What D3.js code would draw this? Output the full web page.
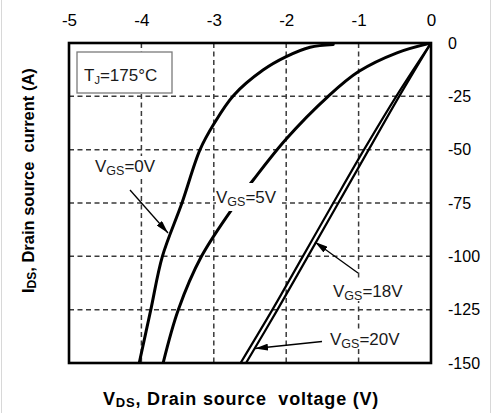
<!DOCTYPE html>
<html>
<head>
<meta charset="utf-8">
<script src="https://cdn.jsdelivr.net/npm/d3@7"></script>
<style>
  html, body { margin: 0; padding: 0; background: #fff; }
  svg { display: block; }
  text { font-family: Arial, "Liberation Sans", sans-serif; }
</style>
</head>
<body>
<svg id="chart" width="495" height="413"></svg>
<script>
// ---- data (V_DS in volts, I_DS in amps) ----
const xTicks = [-5, -4, -3, -2, -1, 0];
const yTicks = [0, -25, -50, -75, -100, -125, -150];

const vgs0V = [-1.35, -1.67, -2.0, -2.32, -2.73, -3.0, -3.19, -3.44, -3.71, -3.87, -4.03];
const vgs0I = [-0.7, -2.0, -6.4, -12.7, -24.7, -38, -50, -75, -100, -125, -150];

const vgs5V = [0, -0.47, -1.0, -1.42, -2.0, -2.45, -2.69, -3.17, -3.49, -3.70];
const vgs5I = [0, -4.6, -13.4, -25, -45, -64, -75, -100, -125, -150];

const vgs18V = [0, -0.48, -0.925, -1.35, -1.77, -2.19, -2.63];
const vgs18I = [0, -25, -50, -75, -100, -125, -150];

const vgs20V = [0, -0.44, -0.86, -1.28, -1.70, -2.12, -2.555];
const vgs20I = [0, -25, -50, -75, -100, -125, -150];

const zip = (vs, is) => vs.map((v, i) => ({ v: v, i: is[i] }));

// ---- layout ----
const svg = d3.select("#chart");
const x = d3.scaleLinear().domain([-5, 0]).range([69, 431]);
const y = d3.scaleLinear().domain([0, -150]).range([43, 363]);

// faint screenshot borders
svg.append("line").attr("x1", 1.5).attr("x2", 1.5).attr("y1", 0).attr("y2", 413)
  .attr("stroke", "#d8d8d8").attr("stroke-width", 1);
svg.append("line").attr("x1", 490.5).attr("x2", 490.5).attr("y1", 0).attr("y2", 413)
  .attr("stroke", "#d8d8d8").attr("stroke-width", 1);

svg.append("defs").append("clipPath").attr("id", "plotclip")
  .append("rect").attr("x", x(-5)).attr("y", y(0))
  .attr("width", x(0) - x(-5)).attr("height", y(-150) - y(0));

// grid
const grid = svg.append("g").attr("stroke", "#3a3a3a").attr("stroke-width", 1.5)
  .attr("stroke-dasharray", "5,3.5");
grid.selectAll("line.v").data(xTicks.slice(1, -1)).join("line")
  .attr("x1", d => x(d)).attr("x2", d => x(d))
  .attr("y1", y(0)).attr("y2", y(-150));
grid.selectAll("line.h").data(yTicks.slice(1, -1)).join("line")
  .attr("x1", x(-5)).attr("x2", x(0))
  .attr("y1", d => y(d)).attr("y2", d => y(d));

// curves
const line = d3.line().x(d => x(d.v)).y(d => y(d.i)).curve(d3.curveCatmullRom.alpha(0.5));
const curves = svg.append("g").attr("clip-path", "url(#plotclip)").attr("fill", "none")
  .attr("stroke", "#000").attr("stroke-linejoin", "round").attr("stroke-linecap", "round");
curves.append("path").attr("d", line(zip(vgs0V, vgs0I))).attr("stroke-width", 3);
curves.append("path").attr("d", line(zip(vgs5V, vgs5I))).attr("stroke-width", 3);
curves.append("path").attr("d", line(zip(vgs18V, vgs18I))).attr("stroke-width", 2.2);
curves.append("path").attr("d", line(zip(vgs20V, vgs20I))).attr("stroke-width", 2.2);

// frame
svg.append("rect").attr("x", x(-5)).attr("y", y(0))
  .attr("width", x(0) - x(-5)).attr("height", y(-150) - y(0))
  .attr("fill", "none").attr("stroke", "#000").attr("stroke-width", 2.6);

// axes
const fmt = d => d3.format("d")(d).replace("\u2212", "-");
const xAxis = svg.append("g").attr("transform", `translate(0,${y(0)})`)
  .call(d3.axisTop(x).tickValues(xTicks).tickSize(0).tickPadding(17).tickFormat(fmt));
const yAxis = svg.append("g").attr("transform", `translate(${x(0)},0)`)
  .call(d3.axisRight(y).tickValues(yTicks).tickSize(0).tickPadding(17).tickFormat(fmt));
[xAxis, yAxis].forEach(a => {
  a.select(".domain").remove();
  a.selectAll("text").attr("fill", "#000").style("font-family", "Arial, 'Liberation Sans', sans-serif");
});
xAxis.selectAll("text").style("font-size", "17px");
yAxis.selectAll("text").style("font-size", "16px");

// T_J box
svg.append("rect").attr("x", 77).attr("y", 52).attr("width", 95).attr("height", 41)
  .attr("fill", "#fff").attr("stroke", "#7a7a7a").attr("stroke-width", 1.3);
const tj = svg.append("text").attr("x", 84).attr("y", 80.5).attr("fill", "#1a1a1a")
  .style("font-size", "17px");
tj.append("tspan").text("T");
tj.append("tspan").attr("dy", 3).style("font-size", "11px").text("J");
tj.append("tspan").attr("dy", -3).text("=175°C");

// VGS labels
function vgsLabel(px, py, val, bg) {
  if (bg) {
    svg.append("rect").attr("x", bg[0]).attr("y", bg[1]).attr("width", bg[2]).attr("height", bg[3])
      .attr("fill", "#fff");
  }
  const t = svg.append("text").attr("x", px).attr("y", py).attr("fill", "#1a1a1a")
    .style("font-size", "17px");
  t.append("tspan").text("V");
  t.append("tspan").attr("dy", 3).style("font-size", "12.5px").text("GS");
  t.append("tspan").attr("dy", -3).text("=" + val);
}
vgsLabel(95, 172, "0V", [94, 156, 58, 20]);
vgsLabel(216, 203, "5V", [216, 183, 66, 28]);
vgsLabel(333, 297, "18V", [332, 281, 74, 20]);
vgsLabel(330, 345, "20V", [329, 329, 74, 20]);

// arrows
const defs = svg.select("defs");
defs.append("marker").attr("id", "arr").attr("viewBox", "0 0 13 7")
  .attr("refX", 13).attr("refY", 3.5).attr("markerWidth", 13).attr("markerHeight", 7)
  .attr("markerUnits", "userSpaceOnUse").attr("orient", "auto")
  .append("path").attr("d", "M0,0 L13,3.5 L0,7 Z").attr("fill", "#000");
const arrows = [
  [130, 190, 168, 233],
  [358, 273, 315, 242],
  [322, 341.5, 255, 348.5]
];
svg.append("g").selectAll("line").data(arrows).join("line")
  .attr("x1", d => d[0]).attr("y1", d => d[1]).attr("x2", d => d[2]).attr("y2", d => d[3])
  .attr("stroke", "#000").attr("stroke-width", 1.3).attr("marker-end", "url(#arr)");

// axis titles
const xt = svg.append("text").attr("x", 103).attr("y", 405).attr("fill", "#000")
  .style("font-size", "18px").style("font-weight", "bold").style("letter-spacing", "0.8px");
xt.append("tspan").text("V");
xt.append("tspan").attr("dy", 2).style("font-size", "13px").text("DS");
xt.append("tspan").attr("dy", -2).text(", Drain source\u00a0 voltage (V)");

const yt = svg.append("text").attr("transform", "translate(34,293) rotate(-90)")
  .attr("fill", "#000").style("font-size", "16.5px").style("font-weight", "bold");
yt.append("tspan").text("I");
yt.append("tspan").attr("dy", 2).style("font-size", "12px").text("DS");
yt.append("tspan").attr("dy", -2).text(", Drain source\u00a0 current (A)");
</script>
</body>
</html>
